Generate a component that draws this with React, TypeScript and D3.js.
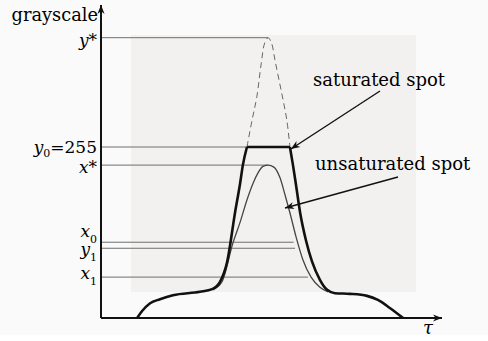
import React from 'react';
import * as d3 from 'd3';

// τ in arbitrary units, grayscale in levels
const saturatedRise = [[1.06, 0], [1.2, 10], [1.44, 22], [1.73, 28], [2.11, 34], [2.9, 39], [3.26, 43], [3.49, 54], [3.7, 84], [3.93, 157], [4.08, 201], [4.16, 228], [4.28, 255]];
const saturatedTop = [[4.28, 255], [5.54, 255]];
const saturatedFall = [[5.54, 255], [5.63, 228], [5.72, 198], [5.84, 157], [6.01, 116], [6.19, 84], [6.42, 57], [6.63, 42], [6.86, 37], [7.3, 36], [7.8, 33], [8.12, 27], [8.47, 15], [8.86, 0]];
const unsaturated = [[3.28, 42], [3.55, 54], [3.87, 112], [4.08, 143], [4.28, 176], [4.46, 201], [4.6, 216], [4.75, 226], [4.9, 228], [5.07, 225], [5.25, 209], [5.4, 183], [5.54, 157], [5.72, 121], [5.92, 87], [6.16, 61], [6.42, 46], [6.66, 39]];
const clipped = [[4.28, 255], [4.43, 295], [4.57, 330], [4.7, 380], [4.8, 410], [4.9, 418], [5.0, 410], [5.1, 385], [5.22, 355], [5.34, 325], [5.45, 295], [5.54, 255]];

const levelNames = ['y*', 'y0=255', 'x*', 'x0', 'y1', 'x1'];
const levelValues = [418, 255, 228, 113, 104, 61];
const levelEnds = [4.9, 4.28, 4.9, 5.65, 5.69, 6.07];

const W = 488, H = 341;
const x = d3.scaleLinear().domain([0, 10]).range([101, 442]);
const y = d3.scaleLinear().domain([0, 255]).range([318, 147]);
const SERIF = '"DejaVu Serif", "Liberation Serif", serif';

const smooth = d3.line<number[]>().x(d => x(d[0])).y(d => y(d[1])).curve(d3.curveMonotoneX);
const straight = d3.line<number[]>().x(d => x(d[0])).y(d => y(d[1]));

function LevelLabel({ name, yy }: { name: string; yy: number }) {
  const ax = x(0) - 4;
  const base = name[0];
  const rest = name.slice(1);
  if (name === 'y0=255') {
    return (
      <text x={ax} y={yy + 6} textAnchor="end" fontFamily={SERIF} fontSize={17}>
        <tspan fontStyle="italic">y</tspan>
        <tspan fontSize={11} dy={4}>0</tspan>
        <tspan dy={-4}>=255</tspan>
      </text>
    );
  }
  if (rest === '*') {
    return (
      <text x={ax} y={yy + 8} textAnchor="end" fontFamily={SERIF} fontSize={17} fontStyle="italic">
        {base}*
      </text>
    );
  }
  return (
    <text x={ax} y={yy} textAnchor="end" fontFamily={SERIF} fontSize={17}>
      <tspan fontStyle="italic">{base}</tspan>
      <tspan fontSize={11} dy={6}>{rest}</tspan>
    </text>
  );
}

export default function App() {
  const labelOffsets = [0, 0, 0, -5, 7, 2];
  return (
    <svg width={W} height={H} style={{ position: 'absolute', left: 0, top: 0 }}>
      <defs>
        <marker id="ah" viewBox="0 0 10 10" refX="10" refY="5" markerWidth="11" markerHeight="9" orient="auto" markerUnits="userSpaceOnUse">
          <path d="M0,1 L10,5 L0,9 L3,5 Z" fill="#111" />
        </marker>
        <marker id="axh" viewBox="0 0 10 10" refX="10" refY="5" markerWidth="12" markerHeight="9" orient="auto" markerUnits="userSpaceOnUse">
          <path d="M0,1 L10,5 L0,9 L3,5 Z" fill="#111" />
        </marker>
      </defs>
      <rect x={0} y={0} width={W} height={335} fill="#fafafa" />
      <rect x={131} y={35} width={285} height={257} fill="#f2f1f0" />

      {levelValues.map((v, i) => (
        <line key={i} x1={x(0)} x2={x(levelEnds[i])} y1={y(v)} y2={y(v)} stroke="#6e6e6e" strokeWidth={1} />
      ))}

      <path d={d3.line<number[]>().x(d => x(d[0])).y(d => y(d[1])).curve(d3.curveCatmullRom)(clipped) || ''} fill="none" stroke="#666" strokeWidth={1} strokeDasharray="6,4" />
      <path d={smooth(unsaturated) || ''} fill="none" stroke="#444" strokeWidth={1.3} />
      <path d={smooth(saturatedRise) || ''} fill="none" stroke="#111" strokeWidth={2.6} />
      <path d={straight(saturatedTop) || ''} fill="none" stroke="#111" strokeWidth={2.6} />
      <path d={smooth(saturatedFall) || ''} fill="none" stroke="#111" strokeWidth={2.6} />

      {/* axes */}
      <line x1={x(0)} y1={y(0)} x2={x(0)} y2={5} stroke="#111" strokeWidth={2} markerEnd="url(#axh)" />
      <line x1={x(0)} y1={y(0)} x2={x(10)} y2={y(0)} stroke="#111" strokeWidth={2} markerEnd="url(#axh)" />
      <text x={98} y={21} textAnchor="end" fontFamily={SERIF} fontSize={17.8}>grayscale</text>
      <text x={428} y={334} textAnchor="middle" fontFamily={SERIF} fontSize={18} fontStyle="italic">τ</text>

      {levelNames.map((n, i) => (
        <LevelLabel key={n} name={n} yy={y(levelValues[i]) + labelOffsets[i]} />
      ))}

      {/* annotations */}
      <text x={313} y={86} fontFamily={SERIF} fontSize={18}>saturated spot</text>
      <line x1={380} y1={91} x2={x(5.54) + 1} y2={y(255) + 2} stroke="#111" strokeWidth={1.4} markerEnd="url(#ah)" />
      <text x={315} y={170} fontFamily={SERIF} fontSize={18}>unsaturated spot</text>
      <line x1={398} y1={177} x2={285} y2={208} stroke="#111" strokeWidth={1.4} markerEnd="url(#ah)" />
    </svg>
  );
}
